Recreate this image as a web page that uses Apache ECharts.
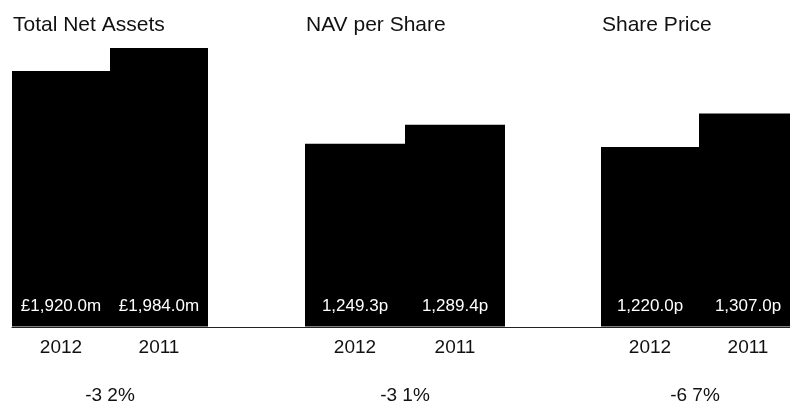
<!DOCTYPE html>
<html>
<head>
<meta charset="utf-8">
<script src="https://cdn.jsdelivr.net/npm/echarts@6/dist/echarts.min.js"></script>
<style>
  html, body { margin: 0; padding: 0; background: #fff; }
  #main { width: 790px; height: 407px; }
</style>
</head>
<body>
<div id="main"></div>
<script>
// data
var years = ['2012', '2011'];
var totalNetAssets = [1920.0, 1984.0];
var navPerShare = [1249.3, 1289.4];
var sharePrice = [1220.0, 1307.0];
var panelTitles = ['Total Net Assets', 'NAV per Share', 'Share Price'];
var changes = ['-3 2%', '-3 1%', '-6 7%'];

var font = "'Liberation Sans', Arial, sans-serif";

function fmt (v) {
  return v.toLocaleString('en-GB', { minimumFractionDigits: 1, maximumFractionDigits: 1 });
}

// per panel layout (each panel has its own value scale)
var panels = [
  { left: 12, width: 196, min: 1210, max: 2006, data: totalNetAssets, pre: '£', suf: 'm', mid: 110 },
  { left: 305, width: 200, min: 864, max: 1468, data: navPerShare, pre: '', suf: 'p', mid: 405 },
  { left: 601, width: 196, min: 753, max: 1498, data: sharePrice, pre: '', suf: 'p', mid: 695 }
];

var grids = [];
var xAxes = [];
var yAxes = [];
var series = [];
var titles = [];
var texts = [];

panels.forEach(function (p, i) {
  grids.push({ left: p.left, top: 40, width: p.width, height: 286.5, outerBoundsMode: 'none', containLabel: false });
  xAxes.push({
    type: 'category',
    gridIndex: i,
    data: years,
    axisLine: { show: false },
    axisTick: { show: false },
    axisLabel: { color: '#111', fontSize: 19, fontFamily: font, margin: 12 }
  });
  yAxes.push({
    type: 'value',
    gridIndex: i,
    min: p.min,
    max: p.max,
    show: false,
    splitLine: { show: false }
  });
  series.push({
    type: 'bar',
    xAxisIndex: i,
    yAxisIndex: i,
    data: p.data,
    barWidth: '100%',
    barCategoryGap: 0,
    itemStyle: { color: '#000' },
    label: {
      show: true,
      position: 'insideBottom',
      distance: 12,
      color: '#fff',
      fontSize: 17,
      fontFamily: font,
      formatter: function (d) { return p.pre + fmt(d.value) + p.suf; }
    }
  });
  titles.push({
    text: panelTitles[i],
    left: p.left - 4,
    top: 10,
    textStyle: { color: '#111', fontSize: 21, fontWeight: 'normal', fontFamily: font }
  });
  texts.push({
    type: 'text',
    x: p.mid,
    y: 396,
    style: {
      text: changes[i],
      fill: '#111',
      font: '19px ' + font,
      textAlign: 'center',
      textVerticalAlign: 'middle'
    }
  });
});

// baseline running across all panels
grids.push({ left: 12, top: 40, width: 778, height: 287, outerBoundsMode: 'none', containLabel: false });
xAxes.push({
  type: 'value',
  gridIndex: 3,
  min: 0,
  max: 1,
  axisLine: { show: true, onZero: false, lineStyle: { color: '#222', width: 1 } },
  axisTick: { show: false },
  axisLabel: { show: false },
  splitLine: { show: false }
});
yAxes.push({ type: 'value', gridIndex: 3, show: false, splitLine: { show: false } });

var chart = echarts.init(document.getElementById('main'), null, { renderer: 'canvas' });
chart.setOption({
  animation: false,
  title: titles,
  grid: grids,
  xAxis: xAxes,
  yAxis: yAxes,
  series: series,
  graphic: texts
});
</script>
</body>
</html>
